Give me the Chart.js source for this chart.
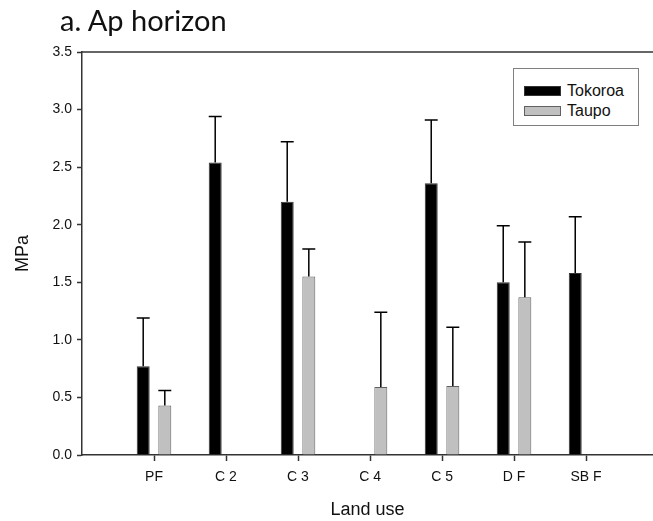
<!DOCTYPE html>
<html>
<head>
<meta charset="utf-8">
<script src="https://cdn.jsdelivr.net/npm/chart.js@4.4.1/dist/chart.umd.min.js"></script>
<style>
  html, body { margin: 0; padding: 0; background: #fff; }
  #wrap { position: relative; width: 653px; height: 521px; }
  #titulo { position: absolute; left: 60px; top: 2px; font-family: Lato, "Open Sans", sans-serif; font-size: 29px; color: #111; white-space: nowrap; }
  #leyenda { position: absolute; left: 513px; top: 68px; width: 126px; height: 58px; border: 1px solid #808080; background: #fff; box-sizing: border-box; padding-top: 12px; }
  .item { height: 20px; display: flex; align-items: center; font-family: "Liberation Sans", Arial, sans-serif; font-size: 16px; color: #111; }
  .caja { width: 37px; height: 10px; margin-left: 10px; margin-right: 6px; box-sizing: border-box; }
</style>
</head>
<body>
<div id="wrap">
  <canvas id="myChart" width="653" height="521"></canvas>
  <div id="titulo">a. Ap horizon</div>
  <div id="leyenda"></div>
</div>
<script>
// datos
const categorias = ['PF', 'C 2', 'C 3', 'C 4', 'C 5', 'D F', 'SB F'];
const tokoroa = [0.77, 2.54, 2.20, null, 2.36, 1.50, 1.58];
const tokoroaError = [0.42, 0.40, 0.52, null, 0.55, 0.49, 0.49];
const taupo = [0.43, null, 1.55, 0.59, 0.60, 1.37, null];
const taupoError = [0.13, null, 0.24, 0.65, 0.51, 0.48, null];
const yTicks = [0, 0.5, 1.0, 1.5, 2.0, 2.5, 3.0, 3.5];

const fuente = '"Liberation Sans", Arial, sans-serif';

function puntos(valores) {
    return valores.map(function(v, i) { return { x: i + 1, y: v }; });
}

// barras de error (solo hacia arriba) y borde superior del grafico
const pluginExtras = {
    id: 'extras',
    afterDatasetsDraw: function(chart) {
        const ctx = chart.ctx;
        const y = chart.scales.y;
        ctx.save();
        ctx.strokeStyle = '#000';
        ctx.lineWidth = 1.5;
        chart.data.datasets.forEach(function(ds, d) {
            const meta = chart.getDatasetMeta(d);
            meta.data.forEach(function(bar, i) {
                const v = ds.data[i].y;
                const e = ds.errores[i];
                if (v === null || e === null) return;
                const top = y.getPixelForValue(v + e);
                const half = bar.width / 2;
                ctx.beginPath();
                ctx.moveTo(bar.x, bar.y);
                ctx.lineTo(bar.x, top);
                ctx.moveTo(bar.x - half, top);
                ctx.lineTo(bar.x + half, top);
                ctx.stroke();
            });
        });
        const a = chart.chartArea;
        ctx.strokeStyle = '#333';
        ctx.beginPath();
        ctx.moveTo(a.left, a.top);
        ctx.lineTo(a.right, a.top);
        ctx.stroke();
        ctx.restore();
    }
};

const data = {
    datasets: [{
        label: 'Tokoroa',
        data: puntos(tokoroa),
        errores: tokoroaError,
        backgroundColor: '#000000',
        borderColor: '#333333',
        borderWidth: 1
    }, {
        label: 'Taupo',
        data: puntos(taupo),
        errores: taupoError,
        backgroundColor: '#c0c0c0',
        borderColor: '#606060',
        borderWidth: 1
    }]
};

const config = {
    type: 'bar',
    data: data,
    plugins: [pluginExtras],
    options: {
        responsive: false,
        animation: false,
        layout: { padding: { top: 52, left: 0, right: 0, bottom: 0 } },
        datasets: { bar: { categoryPercentage: 0.6, barPercentage: 0.6 } },
        plugins: {
            legend: { display: false },
            tooltip: { enabled: false }
        },
        scales: {
            x: {
                type: 'linear',
                offset: false,
                min: 0,
                max: 7.93,
                afterBuildTicks: function(axis) {
                    axis.ticks = categorias.map(function(c, i) { return { value: i + 1 }; });
                },
                afterFit: function(axis) { axis.height = 66; },
                ticks: {
                    color: '#111',
                    padding: 8,
                    font: { family: fuente, size: 14 },
                    callback: function(v) { return categorias[v - 1] || ''; }
                },
                grid: { offset: false, drawOnChartArea: false, tickLength: 6, tickColor: '#333', tickWidth: 1.5 },
                border: { color: '#333', width: 1.5 },
                title: {
                    display: true,
                    text: 'Land use',
                    color: '#111',
                    padding: { top: 0, bottom: 0 },
                    font: { family: fuente, size: 18 }
                }
            },
            y: {
                min: 0,
                max: 3.5,
                afterBuildTicks: function(axis) {
                    axis.ticks = yTicks.map(function(v) { return { value: v }; });
                },
                afterFit: function(axis) { axis.width = 82; },
                ticks: {
                    color: '#111',
                    padding: 5,
                    font: { family: fuente, size: 14 },
                    callback: function(v) { return v.toFixed(1); }
                },
                grid: { drawOnChartArea: false, tickLength: 5, tickColor: '#333', tickWidth: 1.5 },
                border: { color: '#333', width: 1.5 },
                title: {
                    display: true,
                    text: 'MPa',
                    color: '#111',
                    padding: { top: 12, bottom: 0 },
                    font: { family: fuente, size: 18 }
                }
            }
        }
    }
};

const myChart = new Chart(document.getElementById('myChart'), config);

// leyenda en html
const leyenda = document.getElementById('leyenda');
myChart.data.datasets.forEach(function(ds) {
    leyenda.innerHTML += '<div class="item"><span class="caja" style="background:' + ds.backgroundColor +
        ';border:1px solid ' + ds.borderColor + '"></span>' + ds.label + '</div>';
});
</script>
</body>
</html>
